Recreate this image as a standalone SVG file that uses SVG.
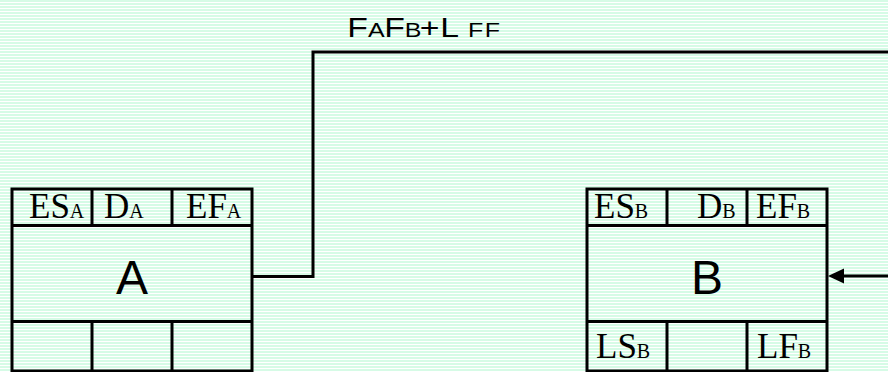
<svg xmlns="http://www.w3.org/2000/svg" width="888" height="372" viewBox="0 0 888 372">
  <defs>
    <pattern id="stripes" x="0" y="0" width="8" height="3" patternUnits="userSpaceOnUse">
      <rect x="0" y="0" width="8" height="3" fill="#ffffff"/>
      <rect x="0" y="0" width="8" height="2" fill="#d6fbe6"/>
    </pattern>
  </defs>
  <style>
    .box { fill: none; stroke: #000; stroke-width: 3; }
    .ln { stroke: #000; stroke-width: 3; fill: none; }
    .cell { font-family: "Liberation Serif", "Times New Roman", serif; font-size: 35px; fill: #000; }
    .sub { font-size: 20px; }
    .big { font-family: "Liberation Sans", Arial, sans-serif; font-size: 48px; fill: #000; text-anchor: middle; }
    .lbl { font-family: "Liberation Sans", Arial, sans-serif; font-size: 27px; fill: #000; }
    .lsub { font-size: 20px; }
  </style>
  <rect x="0" y="0" width="888" height="372" fill="url(#stripes)"/>

  <g id="connectors">
    <polyline class="ln" points="252,276.5 313,276.5 313,52 888,52"/>
    <line class="ln" x1="888" y1="276" x2="842" y2="276"/>
    <polygon points="828,276 844,268.5 844,283.5" fill="#000"/>
    <text class="lbl" transform="scale(1.25,1)" y="37"><tspan x="277.8">F</tspan><tspan class="lsub" x="294.4">A</tspan><tspan x="307.4">F</tspan><tspan class="lsub" x="323.8">B</tspan><tspan x="335.8">+</tspan><tspan x="352.2">L</tspan><tspan class="lsub" x="374.4">F</tspan><tspan class="lsub" x="387.8">F</tspan></text>
  </g>

  <g id="node-A">
    <rect class="box" x="12" y="189" width="240" height="182"/>
    <line class="ln" x1="12" y1="225.5" x2="252" y2="225.5"/>
    <line class="ln" x1="12" y1="321.5" x2="252" y2="321.5"/>
    <line class="ln" x1="92" y1="189" x2="92" y2="225.5"/>
    <line class="ln" x1="172" y1="189" x2="172" y2="225.5"/>
    <line class="ln" x1="92" y1="321.5" x2="92" y2="371"/>
    <line class="ln" x1="172" y1="321.5" x2="172" y2="371"/>
    <text class="cell" x="29" y="218">ES<tspan class="sub">A</tspan></text>
    <text class="cell" x="104" y="218">D<tspan class="sub">A</tspan></text>
    <text class="cell" x="186" y="218">EF<tspan class="sub">A</tspan></text>
    <text class="big" x="132" y="294">A</text>
  </g>

  <g id="node-B">
    <rect class="box" x="587" y="189" width="240" height="182"/>
    <line class="ln" x1="587" y1="225.5" x2="827" y2="225.5"/>
    <line class="ln" x1="587" y1="321.5" x2="827" y2="321.5"/>
    <line class="ln" x1="667" y1="189" x2="667" y2="225.5"/>
    <line class="ln" x1="747" y1="189" x2="747" y2="225.5"/>
    <line class="ln" x1="667" y1="321.5" x2="667" y2="371"/>
    <line class="ln" x1="747" y1="321.5" x2="747" y2="371"/>
    <text class="cell" x="594" y="218">ES<tspan class="sub">B</tspan></text>
    <text class="cell" x="697" y="218">D<tspan class="sub">B</tspan></text>
    <text class="cell" x="756" y="218">EF<tspan class="sub">B</tspan></text>
    <text class="cell" x="596" y="358">LS<tspan class="sub">B</tspan></text>
    <text class="cell" x="757" y="358">LF<tspan class="sub">B</tspan></text>
    <text class="big" x="707" y="294">B</text>
  </g>
</svg>
